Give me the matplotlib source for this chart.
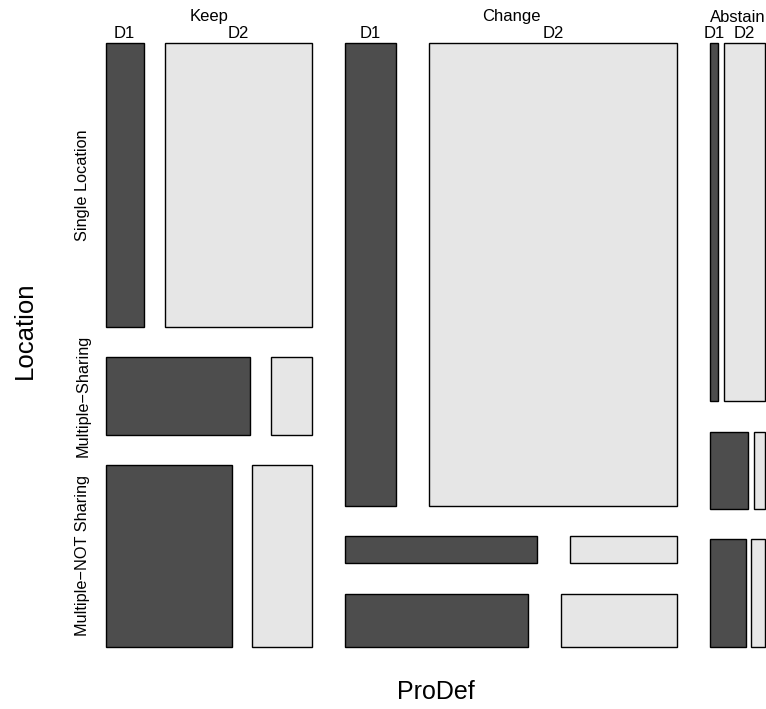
"""
Mosaic plot of ProDef x Location x D.
"""
import numpy as np
import matplotlib
matplotlib.use("Agg")
import matplotlib.pyplot as plt
from matplotlib.patches import Rectangle
from matplotlib.transforms import blended_transform_factory

plt.rcParams['font.family'] = ['Liberation Sans', 'DejaVu Sans']

prodef = ["Keep", "Change", "Abstain"]
location = ["Single Location", "Multiple\u2212Sharing", "Multiple\u2212NOT Sharing"]
dlev = ["D1", "D2"]

# counts[prodef][location] = [D1, D2]
keep_counts = [[37, 142], [38, 11], [78, 37]]
change_counts = [[79, 389], [18, 10], [33, 21]]
abstain_counts = [[10, 50], [10, 3], [13, 5]]
counts = np.array([keep_counts, change_counts, abstain_counts], dtype=float)

colors = ["#4d4d4d", "#e6e6e6"]
OFF = 0.10  # R mosaicplot default spacing


def split(lo, hi, props):
    """Split [lo, hi] into pieces proportional to props, R style."""
    n = len(props)
    white = OFF * (hi - lo) / max(1, n - 1)
    edges = []
    left = lo
    for p in props:
        right = left + (1 - OFF) * p * (hi - lo)
        edges.append((left, right))
        left = right + white
    return edges


fig = plt.figure(figsize=(7.66, 7.09), dpi=100)
W, H = 766, 709
x1, x2, y1, y2 = 105.5, 765, 43, 647
ax = fig.add_axes([x1 / W, 1 - y2 / H, (x2 - x1) / W, (y2 - y1) / H])
ax.set_xlim(0, 1)
ax.set_ylim(0, 1)
ax.axis("off")

top = blended_transform_factory(ax.transData, fig.transFigure)
side = blended_transform_factory(fig.transFigure, ax.transData)

col_tot = counts.sum(axis=(1, 2))
cols = split(0, 1, col_tot / col_tot.sum())
for i, (cl, cr) in enumerate(cols):
    row_tot = counts[i].sum(axis=1)
    # rows run top to bottom
    rows = split(0, 1, row_tot / row_tot.sum())
    ax.text((cl + cr) / 2, 1 - 17 / H, prodef[i], transform=top,
            ha="center", va="center", fontsize=12, clip_on=False)
    for j, (rt, rb) in enumerate(rows):
        yb, yt = 1 - rb, 1 - rt
        cells = split(cl, cr, counts[i, j] / counts[i, j].sum())
        for k, (dl, dr) in enumerate(cells):
            ax.add_patch(Rectangle((dl, yb), dr - dl, yt - yb,
                                   facecolor=colors[k], edgecolor="black",
                                   linewidth=1.0, clip_on=False))
            if j == 0:
                ax.text((dl + dr) / 2, 1 - 33 / H, dlev[k], transform=top,
                        ha="center", va="center", fontsize=12, clip_on=False)
        if i == 0:
            ax.text(83 / W, (yb + yt) / 2, location[j], transform=side,
                    rotation=90, ha="center", va="center", fontsize=11.7,
                    clip_on=False)

fig.text(436 / W, 1 - 692 / H, "ProDef", ha="center", va="center", fontsize=18)
fig.text(25 / W, 1 - 330 / H, "Location", ha="center", va="center",
         rotation=90, fontsize=18.5)

fig.savefig("out.png", dpi=100)
